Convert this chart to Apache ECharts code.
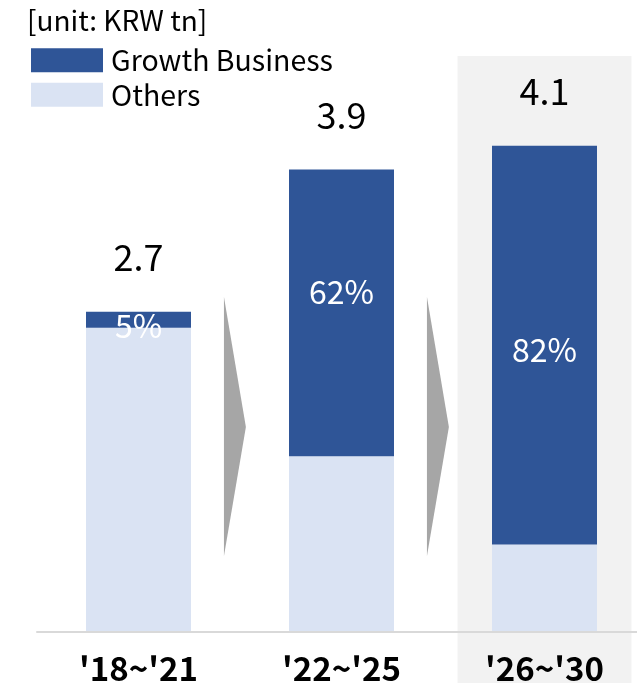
<!DOCTYPE html>
<html>
<head>
<meta charset="utf-8">
<script src="https://cdn.jsdelivr.net/npm/echarts@6/dist/echarts.min.js"></script>
<style>
  html, body { margin: 0; padding: 0; background: #ffffff; }
  #chart { width: 637px; height: 683px; }
</style>
</head>
<body>
<div id="chart"></div>
<script>
// Investment periods and totals (KRW tn)
const periods = ["'18~'21", "'22~'25", "'26~'30"];
const totals = [2.7, 3.9, 4.1];
// Share of the growth business in each period (%)
const growthShare = [5, 62, 82];
// Period highlighted as the plan
const highlightIndex = [2];
// Periods followed by a transition arrow
const arrowAfter = [0, 1];

// Stacked segments derived from totals and shares
const growthValues = totals.map((t, i) => +(t * growthShare[i] / 100).toFixed(4));
const otherValues = totals.map((t, i) => +(t - growthValues[i]).toFixed(4));

// Vertical nudges for the share labels inside the bars (px)
const shareLabelOffset = [6, -21, 5];

const FONT = '"Noto Sans CJK KR", "Noto Sans", sans-serif';
const DARK = '#2F5597';
const LIGHT = '#DAE3F3';

const chart = echarts.init(document.getElementById('chart'), null, { renderer: 'canvas' });

const option = {
  backgroundColor: '#ffffff',
  animation: false,
  textStyle: { fontFamily: FONT },
  title: {
    text: '[unit: KRW tn]',
    left: 27,
    top: 6,
    padding: 0,
    textStyle: { fontFamily: FONT, fontSize: 28, fontWeight: 'normal', color: '#000000' }
  },
  legend: {
    data: ['Growth Business', 'Others'],
    orient: 'vertical',
    left: 31,
    top: 46,
    padding: 0,
    itemWidth: 72,
    itemHeight: 24,
    itemGap: 6,
    icon: 'rect',
    textStyle: { fontFamily: FONT, fontSize: 28.5, color: '#000000', padding: [0, 0, 0, 3] },
    selectedMode: false
  },
  grid: { left: 37, top: 39, width: 609, height: 593, outerBoundsMode: 'none' },
  xAxis: {
    type: 'category',
    data: periods,
    z: 5,
    axisLine: { show: true, lineStyle: { color: '#d9d9d9', width: 2 } },
    axisTick: { show: false },
    axisLabel: {
      fontFamily: FONT,
      fontSize: 33,
      fontWeight: 'bold',
      color: '#000000',
      margin: 20
    }
  },
  yAxis: {
    type: 'value',
    min: 0,
    max: 5,
    show: false,
    splitLine: { show: false }
  },
  series: [
    {
      // highlighted plan period band
      type: 'custom',
      name: 'panel',
      z: 1,
      silent: true,
      clip: false,
      data: highlightIndex.map(i => [i]),
      renderItem: function (params, api) {
        const c = api.coord([api.value(0), 0]);
        const band = api.size([1, 0])[0];
        const w = band * 0.857;
        const top = params.coordSys.y + 17;
        return {
          type: 'rect',
          shape: { x: c[0] - w / 2, y: top, width: w, height: api.getHeight() - top },
          style: { fill: '#f2f2f2' }
        };
      }
    },
    {
      // transition arrows between periods
      type: 'custom',
      name: 'arrows',
      z: 3,
      silent: true,
      clip: false,
      data: arrowAfter.map(i => [i]),
      renderItem: function (params, api) {
        const c = api.coord([api.value(0), 0]);
        const band = api.size([1, 0])[0];
        const x0 = c[0] + band * 0.421;
        const x1 = c[0] + band * 0.529;
        const y0 = c[1] - 335;
        const y1 = c[1] - 76;
        const ym = c[1] - 205;
        return {
          type: 'polygon',
          shape: { points: [[x0, y0], [x1, ym], [x0, y1]] },
          style: { fill: '#a6a6a6' }
        };
      }
    },
    {
      name: 'Others',
      type: 'bar',
      stack: 'total',
      barWidth: 105,
      z: 2,
      itemStyle: { color: LIGHT },
      data: otherValues
    },
    {
      name: 'Growth Business',
      type: 'bar',
      stack: 'total',
      barWidth: 105,
      z: 2,
      itemStyle: { color: DARK },
      data: growthValues.map((v, i) => ({
        value: v,
        label: { offset: [0, shareLabelOffset[i]] }
      })),
      label: {
        show: true,
        position: 'inside',
        fontFamily: FONT,
        fontSize: 32,
        color: '#ffffff',
        formatter: p => growthShare[p.dataIndex] + '%'
      }
    },
    {
      // total value written above each stack
      name: 'Total',
      type: 'bar',
      stack: 'total',
      barWidth: 105,
      z: 2,
      itemStyle: { color: 'rgba(0,0,0,0)' },
      data: totals.map(() => 0),
      label: {
        show: true,
        position: 'top',
        distance: 36,
        fontFamily: FONT,
        fontSize: 36,
        color: '#000000',
        formatter: p => totals[p.dataIndex].toFixed(1)
      }
    }
  ]
};

chart.setOption(option);
</script>
</body>
</html>
